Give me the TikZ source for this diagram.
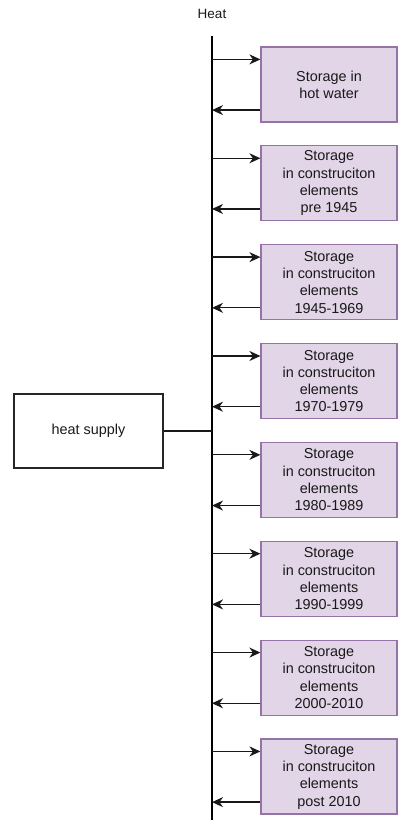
\documentclass[tikz,border=0pt]{standalone}
\usepackage{fontspec}
\setmainfont{Liberation Sans}
\usetikzlibrary{arrows.meta,calc}
\definecolor{storefill}{HTML}{E1D5E7}
\definecolor{storeline}{HTML}{9673A6}
\begin{document}
\begin{tikzpicture}[x=1pt,y=-1pt,
  txt/.style={font=\fontsize{14.4}{17.3}\selectfont, text=black!90, align=center},
  storebox/.style={txt, draw=storeline, fill=storefill, line width=1.2pt,
    minimum width=136pt, minimum height=75pt, inner sep=0pt},
  supplybox/.style={txt, draw=black!85, line width=1.2pt,
    minimum width=149pt, minimum height=74pt, inner sep=0pt},
  bus/.style={line width=2.2pt, black},
  flow/.style={line width=1.3pt, black!90, -{Stealth[length=11pt,width=10pt,inset=3.5pt]}},
  link/.style={line width=1.1pt, black!90}]
\useasboundingbox (0,0) rectangle (398,820);

% heading and main bus
\node[txt, font=\fontsize{13.5}{16}\selectfont] (heat) at (212,14) {Heat};
\coordinate (bustop) at (212,36);
\coordinate (busbot) at (212,820);
\draw[bus] (bustop) -- (busbot);

% supply unit attached to the bus
\node[supplybox] (supply) at (88.5,431) {heat supply};
\draw[link] (supply.east) -- (supply.east -| bustop);

% storage units with charge / discharge arrows
\foreach \i/\label in {
  1/{Storage in\\hot water},
  2/{Storage\\in construciton\\elements\\pre 1945},
  3/{Storage\\in construciton\\elements\\1945-1969},
  4/{Storage\\in construciton\\elements\\1970-1979},
  5/{Storage\\in construciton\\elements\\1980-1989},
  6/{Storage\\in construciton\\elements\\1990-1999},
  7/{Storage\\in construciton\\elements\\2000-2010},
  8/{Storage\\in construciton\\elements\\post 2010}} {
  \pgfmathsetmacro{\cy}{47+98.86*(\i-1)+37.5}
  \node[storebox] (s\i) at (329,\cy) {\label};
  \coordinate (s\i in) at ([yshift=-13pt]s\i.north west);
  \coordinate (s\i out) at ([yshift=12.5pt]s\i.south west);
  \draw[flow] (s\i in -| bustop) -- (s\i in);
  \draw[flow] (s\i out) -- (s\i out -| bustop);
}
\end{tikzpicture}
\end{document}
